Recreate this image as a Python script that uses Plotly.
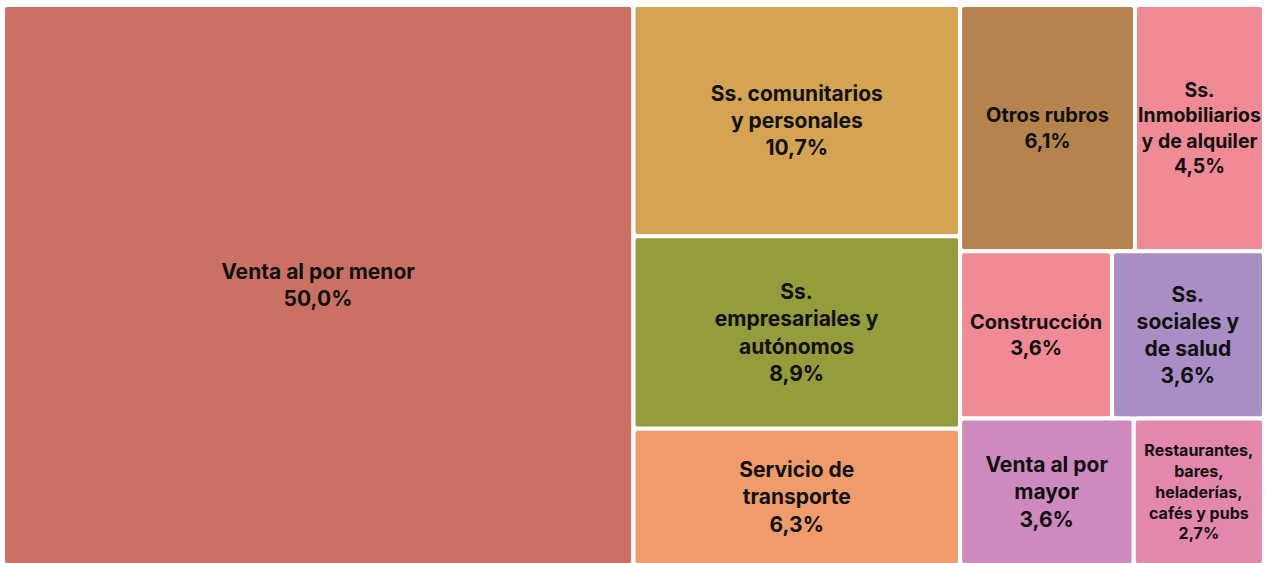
import plotly.graph_objects as go

# Leaf categories
labels = ["Venta al por menor", "Ss. comunitarios y personales", "Ss. empresariales y autónomos",
          "Servicio de transporte", "Otros rubros", "Ss. Inmobiliarios y de alquiler",
          "Construcción", "Ss. sociales y de salud", "Venta al por mayor",
          "Restaurantes, bares, heladerías, cafés y pubs"]
display = ["Venta al por menor", "Ss. comunitarios<br>y personales", "Ss.<br>empresariales y<br>autónomos",
           "Servicio de<br>transporte", "Otros rubros", "Ss.<br>Inmobiliarios<br>y de alquiler",
           "Construcción", "Ss.<br>sociales y<br>de salud", "Venta al por<br>mayor",
           "Restaurantes,<br>bares,<br>heladerías,<br>cafés y pubs"]
values = [50.0, 10.7, 8.9, 6.3, 6.1, 4.5, 3.6, 3.6, 3.6, 2.7]
colors = ["#CB7163", "#D4A452", "#959C3C", "#F09C6A", "#B5834D", "#F08A94",
          "#F08A94", "#A88EC5", "#CE8ABE", "#E387AC"]
font_sizes = [21, 21, 21, 21, 20, 20, 20, 21, 21, 16]
# layout grouping (invisible containers reproducing the original arrangement)
leaf_parent = ["", "col", "col", "col", "row1", "row1", "row2", "row2", "row3", "row3"]
group_ids = ["col", "right", "row1", "row2", "row3"]
group_parent = ["", "", "right", "right", "right"]

texts = [f"<b>{d}<br>{str(v).replace('.', ',')}%</b>" for d, v in zip(display, values)]

ids = labels + group_ids
parents = leaf_parent + group_parent
vals = values + [0] * len(group_ids)
txt = texts + [""] * len(group_ids)
cols = colors + ["white"] * len(group_ids)
sizes = font_sizes + [1] * len(group_ids)

fig = go.Figure(go.Treemap(
    ids=ids,
    labels=ids,
    parents=parents,
    values=vals,
    branchvalues="remainder",
    text=txt,
    texttemplate="%{text}",
    textposition="middle center",
    textfont=dict(family="Inter", size=sizes, color="#111111"),
    marker=dict(colors=cols, line=dict(color="white", width=4), cornerradius=4,
                pad=dict(t=0, l=0, r=0, b=0)),
    tiling=dict(packing="slice-dice", pad=0),
    pathbar=dict(visible=False),
    sort=False,
    hoverinfo="label+value",
))
fig.update_layout(
    width=1265, height=565,
    margin=dict(l=3, r=1, t=5, b=0),
    paper_bgcolor="white",
)
fig.write_html("out.html", config={"displayModeBar": False},
               post_script="document.body.style.margin='0';document.body.style.overflow='hidden';")
